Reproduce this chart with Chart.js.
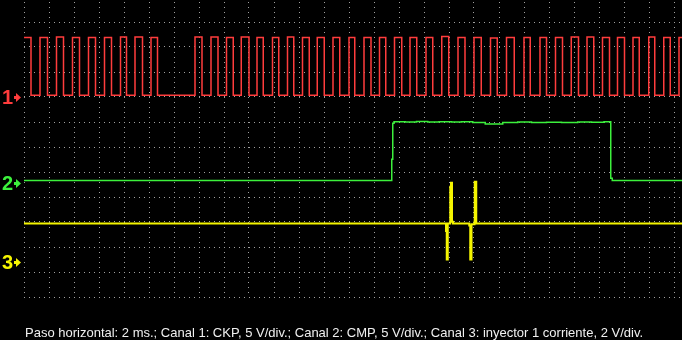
<!DOCTYPE html>
<html>
<head>
<meta charset="utf-8">
<script src="https://cdn.jsdelivr.net/npm/chart.js@4/dist/chart.umd.min.js"></script>
<style>
  html, body { margin: 0; padding: 0; background: #000; }
  canvas { display: block; }
</style>
</head>
<body>
<canvas id="grafico" width="682" height="340"></canvas>
<script>
// Canal 1 (CKP): tiempo en ms y tensión en V, escalón en cada punto
const ckpT = [0, 0.56, 1.28, 1.88, 2.60, 3.16, 3.88, 4.44, 5.16, 5.72, 6.44, 7.00, 7.72, 8.20, 8.88, 9.48,
  10.16, 10.68, 13.68, 14.24, 14.96, 15.52, 16.20, 16.74, 17.38, 18.00, 18.64, 19.14, 19.88, 20.38,
  21.08, 21.58, 22.28, 22.82, 23.46, 24.02, 24.72, 25.26, 26.00, 26.46, 27.20, 27.76, 28.44, 28.94,
  29.64, 30.22, 30.88, 31.42, 32.16, 32.70, 33.42, 33.98, 34.72, 35.28, 36.00, 36.58, 37.32, 37.86,
  38.60, 39.22, 40.00, 40.50, 41.28, 41.80, 42.52, 43.08, 43.78, 44.36, 45.04, 45.58, 46.28, 46.84,
  47.48, 48.04, 48.72, 49.22, 49.98, 50.46, 51.18, 51.70, 52.40, 52.64];
const ckpV = [11.9, 0.34, 11.9, 0.34, 12.0, 0.34, 11.9, 0.34, 11.9, 0.34, 11.9, 0.34, 12.0, 0.34, 12.0, 0.34,
  11.9, 0.34, 12.0, 0.34, 12.0, 0.34, 11.9, 0.34, 12.0, 0.34, 11.9, 0.34, 11.9, 0.34,
  12.0, 0.34, 11.9, 0.34, 11.9, 0.34, 11.9, 0.34, 11.9, 0.34, 11.9, 0.34, 11.9, 0.34,
  11.9, 0.34, 11.9, 0.34, 11.9, 0.34, 12.1, 0.34, 11.9, 0.34, 11.9, 0.34, 11.8, 0.34,
  11.9, 0.34, 11.9, 0.34, 11.9, 0.34, 11.9, 0.34, 12.0, 0.34, 12.0, 0.34, 11.9, 0.34,
  11.9, 0.34, 11.9, 0.34, 12.0, 0.34, 11.9, 0.34, 11.9, 11.9];

// Canal 2 (CMP)
const cmpT = [0, 29.42, 29.50, 29.60, 30.50, 31.40, 32.30, 33.20, 34.20, 35.00, 35.90, 36.90, 38.30,
  39.50, 40.60, 41.80, 43.00, 44.30, 45.40, 46.40, 46.94, 47.06, 52.64];
const cmpV = [0.4, 4.64, 11.84, 12.16, 12.1, 12.2, 12.1, 12.16, 12.1, 12.16, 12.0, 11.7, 12.0,
  12.1, 12.0, 12.06, 12.0, 12.1, 12.06, 12.16, 0.84, 0.4, 0.4];

// Canal 3 (inyector 1 corriente)
const inyT = [0, 33.76, 33.82, 33.90, 34.10, 34.16, 34.24, 34.32, 35.62, 35.70, 35.80, 36.04, 36.06, 36.18, 52.64];
const inyV = [3.06, 2.46, 0.19, 3.06, 6.0, 6.32, 3.2, 3.06, 2.9, 0.19, 3.0, 3.2, 6.4, 3.06, 3.06];

// Ejes: 2 ms/div en horizontal; cada canal con su V/div y su nivel de referencia
const pasoMs = 2;
const tiempoMax = 52.64;
const ejeCanal1 = { min: -40, max: 19.4, paso: 5 };
const ejeCanal2 = { min: -22.9, max: 36.5 };
const ejeCanal3 = { min: -2.82, max: 20.94 };

const rojo = "#ff3c3c";
const verde = "#3cf03c";
const amarillo = "#f5f500";
const colorGrilla = "#a0a0a0";

const leyendaInferior = "Paso horizontal: 2 ms.; Canal 1: CKP, 5 V/div.; Canal 2: CMP, 5 V/div.; Canal 3: inyector 1 corriente, 2 V/div.";

const canales = [
  { num: "1", eje: "y1", color: rojo },
  { num: "2", eje: "y2", color: verde },
  { num: "3", eje: "y3", color: amarillo }
];

function puntos(ts, vs) {
  return ts.map((t, i) => ({ x: t, y: vs[i] }));
}

const marcasPlugin = {
  id: "marcas",
  afterDraw(chart) {
    const ctx = chart.ctx;
    ctx.save();
    canales.forEach(c => {
      const y = Math.round(chart.scales[c.eje].getPixelForValue(0));
      ctx.fillStyle = c.color;
      ctx.font = "bold 20px 'Liberation Sans', Arial, sans-serif";
      ctx.textAlign = "left";
      ctx.textBaseline = "middle";
      ctx.fillText(c.num, 2, y + 1);
      ctx.fillRect(14, y - 1, 3, 3);
      ctx.beginPath();
      ctx.moveTo(16, y - 4);
      ctx.lineTo(21, y + 0.5);
      ctx.lineTo(16, y + 5);
      ctx.closePath();
      ctx.fill();
    });
    ctx.fillStyle = "#f0f0f0";
    ctx.font = "13px 'Liberation Sans', Arial, sans-serif";
    ctx.textBaseline = "alphabetic";
    ctx.fillText(leyendaInferior, 25, 337);
    ctx.restore();
  }
};

const ctx = document.getElementById("grafico").getContext("2d");

new Chart(ctx, {
  type: "line",
  data: {
    datasets: [
      { label: "CKP", data: puntos(ckpT, ckpV), yAxisID: "y1", borderColor: rojo, borderWidth: 1.5, stepped: true, pointRadius: 0 },
      { label: "CMP", data: puntos(cmpT, cmpV), yAxisID: "y2", borderColor: verde, borderWidth: 1.5, stepped: true, pointRadius: 0 },
      { label: "Inyector", data: puntos(inyT, inyV), yAxisID: "y3", borderColor: amarillo, borderWidth: 2, stepped: true, pointRadius: 0 }
    ]
  },
  options: {
    responsive: false,
    devicePixelRatio: 1,
    animation: false,
    layout: { padding: { left: 24, right: 0, top: 0, bottom: 43 } },
    plugins: {
      legend: { display: false },
      tooltip: { enabled: false },
      title: { display: false }
    },
    scales: {
      x: {
        type: "linear",
        min: 0,
        max: tiempoMax,
        ticks: { display: false, stepSize: pasoMs, includeBounds: false },
        grid: { color: colorGrilla, drawTicks: false, lineWidth: 1 },
        border: { display: false, dash: [1, 4], dashOffset: 3 }
      },
      y1: {
        type: "linear",
        position: "left",
        min: ejeCanal1.min,
        max: ejeCanal1.max,
        ticks: { display: false, stepSize: ejeCanal1.paso, includeBounds: false },
        grid: { color: colorGrilla, drawTicks: false, lineWidth: 1 },
        border: { display: false, dash: [1, 4], dashOffset: 0 }
      },
      y2: { type: "linear", display: false, min: ejeCanal2.min, max: ejeCanal2.max },
      y3: { type: "linear", display: false, min: ejeCanal3.min, max: ejeCanal3.max }
    }
  },
  plugins: [marcasPlugin]
});
</script>
</body>
</html>
